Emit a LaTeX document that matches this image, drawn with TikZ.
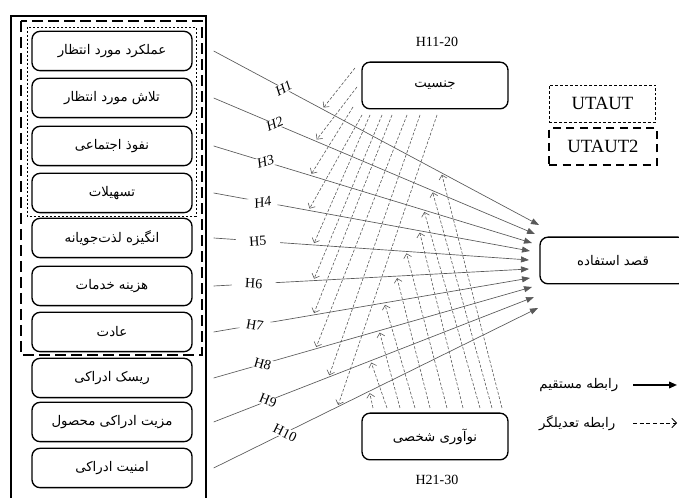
\documentclass[tikz,border=0pt]{standalone}
\usepackage{fontspec}
\setmainfont{Liberation Serif}
\newfontfamily\fafont[Script=Arabic]{DejaVu Sans}
\TeXXeTstate=1
\usetikzlibrary{arrows.meta,calc}

\newcommand{\fa}[1]{{\fafont\beginR #1\endR}}

\tikzset{
  varbox/.style={draw, rounded corners=6pt, line width=1pt, minimum width=120pt, minimum height=29.5pt, inner sep=0pt, font=\fontsize{10}{12}\selectfont},
  modbox/.style={draw, rounded corners=6pt, line width=1pt, minimum width=109.5pt, minimum height=35pt, inner sep=0pt, font=\fontsize{10}{12}\selectfont},
  direct/.style={draw=black!65, line width=0.5pt, -{Triangle[length=6pt,width=4.5pt]}},
  moder/.style={draw=black!65, line width=0.45pt, dash pattern=on 2.2pt off 1.3pt, shorten >=1.5pt, -{Straight Barb[length=3pt,width=6pt]}},
  hlab/.style={sloped, fill=white, inner xsep=10pt, inner ysep=0.5pt, font=\fontsize{10.5}{12}\selectfont},
}

\begin{document}
\begin{tikzpicture}[x=0.75pt,y=0.75pt,yscale=-1,xscale=1]
\useasboundingbox (0,0) rectangle (679,498);

%Shape: Rectangle (outer frame, open at the bottom)
\draw[line width=0.8pt] (11,498) -- (11,16) -- (206,16) -- (206,498);
%Shape: Rectangle (UTAUT2)
\draw[line width=1.4pt, dash pattern=on 8pt off 4pt] (21,21) rectangle (202,355);
%Shape: Rectangle (UTAUT)
\draw[line width=0.6pt, dash pattern=on 1.8pt off 1.2pt] (27,27) rectangle (196,216);

% Text Node
\node[varbox] (pe) at (112,51) {\fa{عملکرد مورد انتظار}};
% Text Node
\node[varbox] (ee) at (112,98) {\fa{تلاش مورد انتظار}};
% Text Node
\node[varbox] (si) at (112,146) {\fa{نفوذ اجتماعی}};
% Text Node
\node[varbox] (fc) at (112,193) {\fa{تسهیلات}};
% Text Node
\node[varbox] (hm) at (112,238) {\fa{انگیزه لذت‌جویانه}};
% Text Node
\node[varbox] (pv) at (112,286) {\fa{هزینه خدمات}};
% Text Node
\node[varbox] (hb) at (112,332) {\fa{عادت}};
% Text Node
\node[varbox] (pr) at (112,378) {\fa{ریسک ادراکی}};
% Text Node
\node[varbox] (pb) at (112,422) {\fa{مزیت ادراکی محصول}};
% Text Node
\node[varbox] (ps) at (112,468) {\fa{امنیت ادراکی}};

% Text Node
\node[modbox] (gen) at (435,85.5) {\fa{جنسیت}};
% Text Node
\node[modbox] (inno) at (435,436.5) {\fa{نوآوری شخصی}};
% Text Node
\node[modbox] (bi) at (613,260.5) {\fa{قصد استفاده}};

% Text Node
\node[font=\fontsize{10.5}{12}\selectfont] (genlab) at (437,42) {H11-20};
% Text Node
\node[font=\fontsize{10.5}{12}\selectfont] (innolab) at (437,480) {H21-30};

%Shape: Rectangle
\node[draw, line width=0.6pt, dash pattern=on 2.2pt off 1.5pt, minimum width=80pt, minimum height=27.75pt, font=\fontsize{14}{16}\selectfont] (utaut) at (602.5,103.5) {UTAUT};
%Shape: Rectangle
\node[draw, line width=1.3pt, dash pattern=on 6pt off 4pt, minimum width=80.5pt, minimum height=27.75pt, font=\fontsize{14}{16}\selectfont] (utaut2) at (603,146.5) {UTAUT2};

% arrow tips on the arc in front of the target box
\coordinate (t1) at (539,225);
\coordinate (t2) at (535,234);
\coordinate (t3) at (532,243);
\coordinate (t4) at (530,251);
\coordinate (t5) at (529,260);
\coordinate (t6) at (529,269);
\coordinate (t7) at (530,278);
\coordinate (t8) at (532,287);
\coordinate (t9) at (534,297);
\coordinate (t10) at (538,308);

%Straight Lines
\draw[direct] ($(pe.east)+(21,0)$) -- node[hlab,pos=0.215] {\itshape H1} coordinate[pos=0.334] (g1) coordinate[pos=0.70] (n1) (t1);
%Straight Lines
\draw[direct] ($(ee.east)+(21,0)$) -- node[hlab,pos=0.19] {\itshape H2} coordinate[pos=0.317] (g2) coordinate[pos=0.68] (n2) (t2);
%Straight Lines
\draw[direct] ($(si.east)+(21,0)$) -- node[hlab,pos=0.163] {\itshape H3} coordinate[pos=0.304] (g3) coordinate[pos=0.66] (n3) (t3);
%Straight Lines
\draw[direct] ($(fc.east)+(21,0)$) -- node[hlab,pos=0.155] {\itshape H4} coordinate[pos=0.30] (g4) coordinate[pos=0.65] (n4) (t4);
%Straight Lines
\draw[direct] ($(hm.east)+(21,0)$) -- node[hlab,pos=0.14] {H5} coordinate[pos=0.316] (g5) coordinate[pos=0.61] (n5) (t5);
%Straight Lines
\draw[direct] ($(pv.east)+(21,0)$) -- node[hlab,pos=0.127] {H6} coordinate[pos=0.316] (g6) coordinate[pos=0.58] (n6) (t6);
%Straight Lines
\draw[direct] ($(hb.east)+(21,0)$) -- node[hlab,pos=0.13] {H7} coordinate[pos=0.315] (g7) coordinate[pos=0.54] (n7) (t7);
%Straight Lines
\draw[direct] ($(pr.east)+(21,0)$) -- node[hlab,pos=0.154] {H8} coordinate[pos=0.32] (g8) coordinate[pos=0.52] (n8) (t8);
%Straight Lines
\draw[direct] ($(pb.east)+(21,0)$) -- node[hlab,pos=0.17] {H9} coordinate[pos=0.359] (g9) coordinate[pos=0.49] (n9) (t9);
%Straight Lines
\draw[direct] ($(ps.east)+(21,0)$) -- node[hlab,pos=0.22] {H10} coordinate[pos=0.382] (g10) coordinate[pos=0.48] (n10) (t10);

% starts of the moderating arrows
\coordinate (G1) at (355,68);
\coordinate (G2) at (357,87);
\coordinate (G3) at (353,107);
\coordinate (G4) at (362,115);
\coordinate (G5) at (370,115);
\coordinate (G6) at (382,115);
\coordinate (G7) at (392,115);
\coordinate (G8) at (407,115);
\coordinate (G9) at (420,115);
\coordinate (G10) at (437,115);
\coordinate (N1) at (502,408);
\coordinate (N2) at (492,408);
\coordinate (N3) at (480,408);
\coordinate (N4) at (463,408);
\coordinate (N5) at (447,408);
\coordinate (N6) at (430,408);
\coordinate (N7) at (415,408);
\coordinate (N8) at (400,408);
\coordinate (N9) at (387,408);
\coordinate (N10) at (373,408);

%Straight Lines
\draw[moder] (G1) -- (g1);
\draw[moder] (G2) -- (g2);
\draw[moder] (G3) -- (g3);
\draw[moder] (G4) -- (g4);
\draw[moder] (G5) -- (g5);
\draw[moder] (G6) -- (g6);
\draw[moder] (G7) -- (g7);
\draw[moder] (G8) -- (g8);
\draw[moder] (G9) -- (g9);
\draw[moder] (G10) -- (g10);
%Straight Lines
\draw[moder] (N1) -- (n1);
\draw[moder] (N2) -- (n2);
\draw[moder] (N3) -- (n3);
\draw[moder] (N4) -- (n4);
\draw[moder] (N5) -- (n5);
\draw[moder] (N6) -- (n6);
\draw[moder] (N7) -- (n7);
\draw[moder] (N8) -- (n8);
\draw[moder] (N9) -- (n9);
\draw[moder] (N10) -- (n10);

% Text Node
\node[anchor=east, font=\fontsize{10}{12}\selectfont] (leg1) at (623,385) {\fa{رابطه مستقیم}};
% Text Node
\node[anchor=east, font=\fontsize{10}{12}\selectfont] (leg2) at (620,423) {\fa{رابطه تعدیلگر}};
\coordinate (l1a) at (633,385);
\coordinate (l1b) at (677,385);
\coordinate (l2a) at (633,423);
\coordinate (l2b) at (677,423);
%Straight Lines
\draw[line width=1.2pt, -{Triangle[length=6pt,width=5pt]}] (l1a) -- (l1b);
%Straight Lines
\draw[line width=0.6pt, dash pattern=on 3pt off 2pt, -{Straight Barb[length=3.5pt,width=7pt]}] (l2a) -- (l2b);

\end{tikzpicture}
\end{document}
